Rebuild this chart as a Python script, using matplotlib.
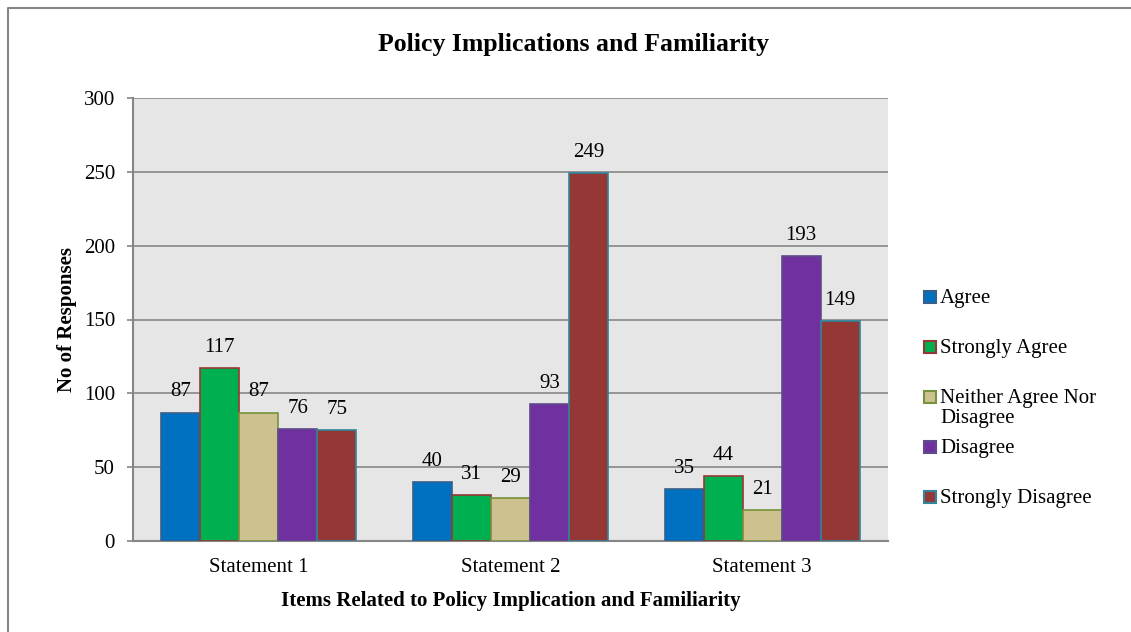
import numpy as np
import matplotlib.pyplot as plt
from matplotlib.patches import Rectangle
from matplotlib.lines import Line2D

plt.rcParams['font.family'] = ['Liberation Serif', 'DejaVu Serif']

statements = ["Statement 1", "Statement 2", "Statement 3"]
series = ["Agree", "Strongly Agree", "Neither Agree Nor\nDisagree", "Disagree", "Strongly Disagree"]
agree = [87, 40, 35]
strongly_agree = [117, 31, 44]
neither = [87, 29, 21]
disagree = [76, 93, 193]
strongly_disagree = [75, 249, 149]

values = [agree, strongly_agree, neither, disagree, strongly_disagree]
faces = ["#0070C0", "#00B050", "#CCC18F", "#7030A0", "#953735"]
edges = ["#3A5F8A", "#953735", "#77933C", "#5F4B8B", "#31859C"]

W, H = 1131, 632
fig = plt.figure(figsize=(W / 100, H / 100), dpi=100)
ax = fig.add_axes([133 / W, 1 - 541 / H, 755 / W, 443 / H])
ax.set_facecolor("#E6E6E6")

x = np.arange(len(statements))
w = 0.155
for i, (vals, fc, ec) in enumerate(zip(values, faces, edges)):
    pos = x + (i - 2) * w
    bars = ax.bar(pos, vals, w, color=fc, edgecolor=ec, linewidth=1.2, zorder=3)
    for b, v in zip(bars, vals):
        ax.annotate(str(v), (b.get_x() + b.get_width() / 2, v), xytext=(0, 8),
                    textcoords="offset points", ha="center", va="bottom",
                    fontsize=15, zorder=4)

ax.set_xlim(-0.5, 2.5)
ax.set_ylim(0, 300)
ax.set_yticks(range(0, 301, 50))
ax.set_xticks(x)
ax.set_xticklabels(statements)
ax.tick_params(axis="both", labelsize=15, color="#868686", length=4, width=1.2)
ax.tick_params(axis="y", pad=9)
ax.tick_params(axis="x", length=0, pad=12)
ax.yaxis.grid(True, color="#868686", linewidth=1.2, zorder=0)

for s in ["top", "right"]:
    ax.spines[s].set_visible(False)
for s in ["left", "bottom"]:
    ax.spines[s].set_color("#868686")
    ax.spines[s].set_linewidth(1.5)

ax.set_ylabel("No of Responses", fontsize=15, fontweight="bold", labelpad=5)
ax.set_xlabel("Items Related to Policy Implication and Familiarity", fontsize=15,
              fontweight="bold", labelpad=10)
fig.text(573 / W, 1 - 45 / H, "Policy Implications and Familiarity",
         ha="center", va="center", fontsize=18.5, fontweight="bold")

# legend squares and labels
leg_y = [297, 347, 397, 447, 497]
for lab, fc, ec, yy in zip(series, faces, edges, leg_y):
    fig.patches.append(Rectangle((924 / W, 1 - (yy + 6) / H), 12 / W, 12 / H,
                                 transform=fig.transFigure, facecolor=fc,
                                 edgecolor=ec, linewidth=1.5))
    fig.text(940 / W, 1 - (yy - 8) / H, lab, ha="left", va="top", fontsize=15,
             linespacing=1.05)

# outer chart border (top and left edges)
fig.lines.append(Line2D([8 / W, 8 / W, 1], [0, 1 - 8 / H, 1 - 8 / H],
                        transform=fig.transFigure, color="#868686", linewidth=1.5))

plt.savefig("out.png", dpi=100)
